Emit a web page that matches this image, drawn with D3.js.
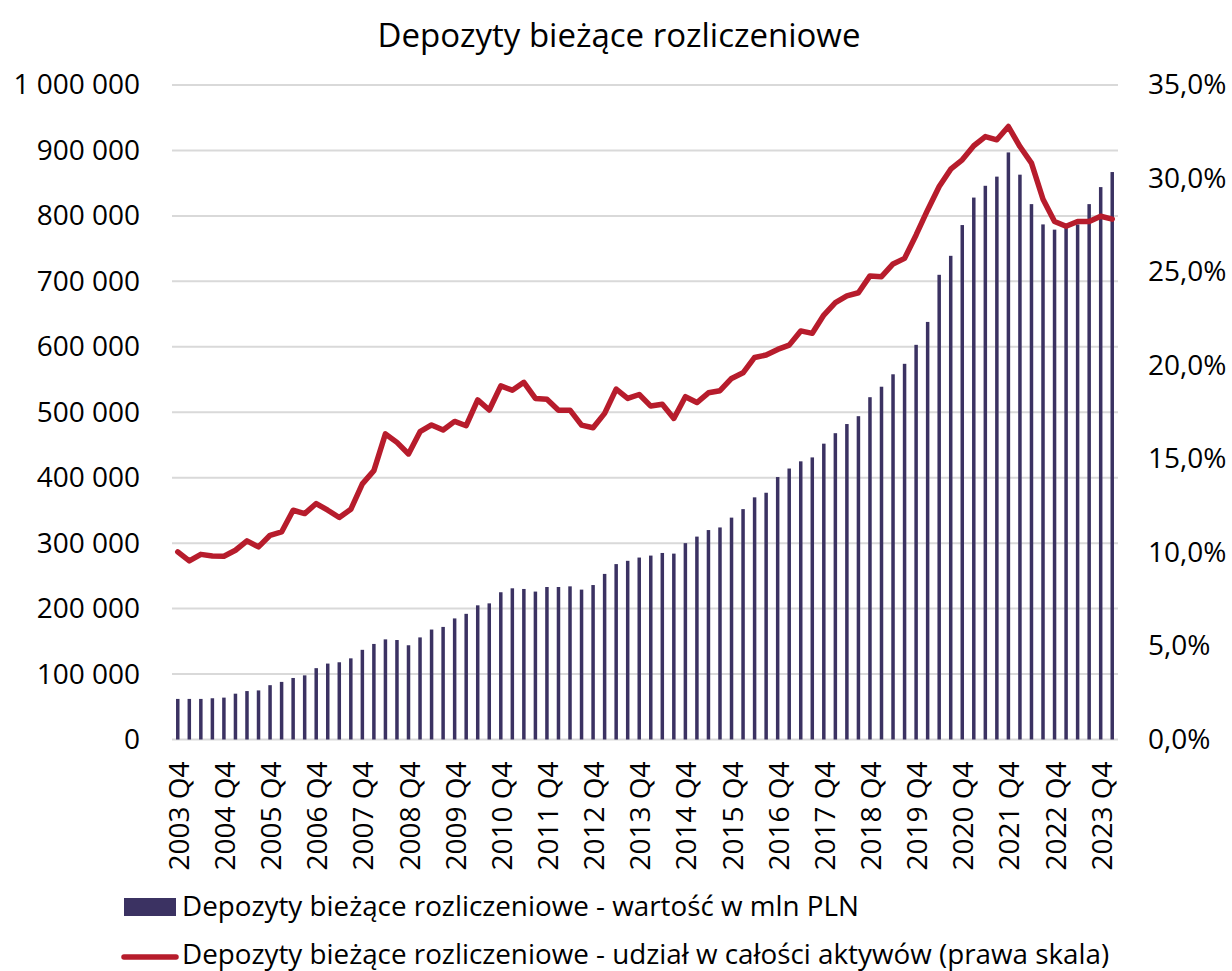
<!DOCTYPE html>
<html>
<head>
<meta charset="utf-8">
<script src="https://cdn.jsdelivr.net/npm/d3@7"></script>
<style>
  body { margin: 0; background: #fff; }
  text { font-family: "Open Sans", sans-serif; fill: #000; }
</style>
</head>
<body>
<svg id="chart" width="1232" height="971" viewBox="0 0 1232 971"></svg>
<script>
// quarters 2003 Q4 .. 2024 Q1
const quarters = []
for (let y = 2003, q = 4; quarters.length < 82; ) {
    quarters.push(y + " Q" + q)
    q++
    if (q > 4) { q = 1; y++ }
}

// wartość w mln PLN
const values = [
    62000, 62000, 62000, 63000, 64000, 70000, 74000, 75000, 83000, 88000,
    94000, 98000, 109000, 116000, 118000, 124000, 137000, 146000, 153000, 152000,
    144000, 156000, 168000, 172000, 185000, 192000, 205000, 208000, 225000, 231000,
    230000, 226000, 233000, 233000, 234000, 229000, 236000, 253000, 268000, 273000,
    278000, 281000, 285000, 284000, 300000, 310000, 320000, 324000, 339000, 352000,
    370000, 377000, 401000, 414000, 425000, 431000, 452000, 468000, 482000, 494000,
    523000, 539000, 558000, 574000, 603000, 638000, 710000, 739000, 786000, 828000,
    846000, 860000, 897000, 863000, 818000, 787000, 779000, 782000, 787000, 818000,
    844000, 867000
]

// udział w całości aktywów, %
const shares = [
    10.03, 9.55, 9.9, 9.81, 9.8, 10.12, 10.62, 10.3, 10.92, 11.1,
    12.26, 12.08, 12.62, 12.26, 11.87, 12.31, 13.67, 14.38, 16.34, 15.89,
    15.27, 16.46, 16.82, 16.55, 17.01, 16.78, 18.16, 17.62, 18.91, 18.68,
    19.1, 18.24, 18.2, 17.61, 17.61, 16.81, 16.67, 17.44, 18.74, 18.24,
    18.45, 17.83, 17.93, 17.17, 18.33, 18.02, 18.54, 18.65, 19.31, 19.61,
    20.43, 20.56, 20.86, 21.09, 21.85, 21.72, 22.7, 23.36, 23.72, 23.89,
    24.79, 24.75, 25.43, 25.73, 26.98, 28.32, 29.57, 30.5, 31.0, 31.75,
    32.24, 32.07, 32.78, 31.71, 30.82, 28.89, 27.7, 27.45, 27.7, 27.7,
    27.98, 27.83
]

const leftTicks = [0, 100000, 200000, 300000, 400000, 500000, 600000, 700000, 800000, 900000, 1000000]
const rightTicks = [0, 5, 10, 15, 20, 25, 30, 35]

const title = "Depozyty bieżące rozliczeniowe"
const legendLabels = [
    "Depozyty bieżące rozliczeniowe - wartość w mln PLN",
    "Depozyty bieżące rozliczeniowe - udział w całości aktywów (prawa skala)"
]

const barColor = "#3b3262"
const lineColor = "#b71c2c"

const svg = d3.select("#chart")
const plot = { left: 172, right: 1118, top: 85, bottom: 739.5 }

let x = d3.scaleBand()
    .domain(quarters)
    .range([plot.left, plot.right])

let yLeft = d3.scaleLinear()
    .domain([0, 1000000])
    .range([plot.bottom, plot.top])

let yRight = d3.scaleLinear()
    .domain([0, 35])
    .range([plot.bottom, plot.top])

const fmtSpace = v => d3.format(",")(v).replace(/,/g, " ")
const fmtPct = v => d3.format(".1f")(v).replace(".", ",") + "%"

// gridlines
svg.append("g")
    .selectAll("line")
    .data(leftTicks)
    .enter()
    .append("line")
    .attr("x1", plot.left)
    .attr("x2", plot.right)
    .attr("y1", d => yLeft(d))
    .attr("y2", d => yLeft(d))
    .attr("stroke", "#d9d9d9")
    .attr("stroke-width", 2)

// left axis
let leftAxis = svg.append("g")
    .attr("transform", "translate(150,0)")
    .call(d3.axisLeft(yLeft).tickValues(leftTicks).tickFormat(fmtSpace).tickSize(0).tickPadding(10))
leftAxis.select(".domain").remove()
leftAxis.selectAll("text")
    .style("font-family", "'Open Sans', sans-serif")
    .style("font-size", "28px")
    .attr("fill", "#000")

// right axis
let rightAxis = svg.append("g")
    .attr("transform", "translate(1138,0)")
    .call(d3.axisRight(yRight).tickValues(rightTicks).tickFormat(fmtPct).tickSize(0).tickPadding(10))
rightAxis.select(".domain").remove()
rightAxis.selectAll("text")
    .style("font-family", "'Open Sans', sans-serif")
    .style("font-size", "28px")
    .attr("fill", "#000")

// bars
svg.append("g")
    .selectAll("rect")
    .data(values)
    .enter()
    .append("rect")
    .attr("x", (d, i) => x(quarters[i]) + x.bandwidth() / 2 - 1.75)
    .attr("width", 3.5)
    .attr("y", d => yLeft(d))
    .attr("height", d => yLeft(0) - yLeft(d))
    .attr("fill", barColor)

// line
let line = d3.line()
    .x((d, i) => x(quarters[i]) + x.bandwidth() / 2)
    .y(d => yRight(d))

svg.append("path")
    .datum(shares)
    .attr("d", line)
    .attr("fill", "none")
    .attr("stroke", lineColor)
    .attr("stroke-width", 5.5)
    .attr("stroke-linejoin", "round")
    .attr("stroke-linecap", "round")

// x labels, every 4th quarter
let xAxis = svg.append("g")
    .attr("transform", `translate(0,${plot.bottom})`)
    .call(d3.axisBottom(x).tickValues(quarters.filter((d, i) => i % 4 === 0)).tickSize(0))
xAxis.select(".domain").remove()
xAxis.selectAll("text")
    .style("font-family", "'Open Sans', sans-serif")
    .style("font-size", "28px")
    .attr("fill", "#000")
    .attr("text-anchor", "end")
    .attr("dy", null)
    .attr("y", 0)
    .attr("transform", "translate(11,22) rotate(-90)")

// title
svg.append("text")
    .attr("x", 619)
    .attr("y", 47)
    .attr("text-anchor", "middle")
    .style("font-size", "33px")
    .text(title)

// legend
let legend = svg.append("g")
legend.append("rect")
    .attr("x", 124)
    .attr("y", 898)
    .attr("width", 52)
    .attr("height", 18)
    .attr("fill", barColor)
legend.append("text")
    .attr("x", 182)
    .attr("y", 916)
    .style("font-size", "27.8px")
    .text(legendLabels[0])
legend.append("line")
    .attr("x1", 124)
    .attr("x2", 176)
    .attr("y1", 957)
    .attr("y2", 957)
    .attr("stroke", lineColor)
    .attr("stroke-width", 5.5)
    .attr("stroke-linecap", "round")
legend.append("text")
    .attr("x", 182)
    .attr("y", 964)
    .style("font-size", "27.8px")
    .text(legendLabels[1])
</script>
</body>
</html>
